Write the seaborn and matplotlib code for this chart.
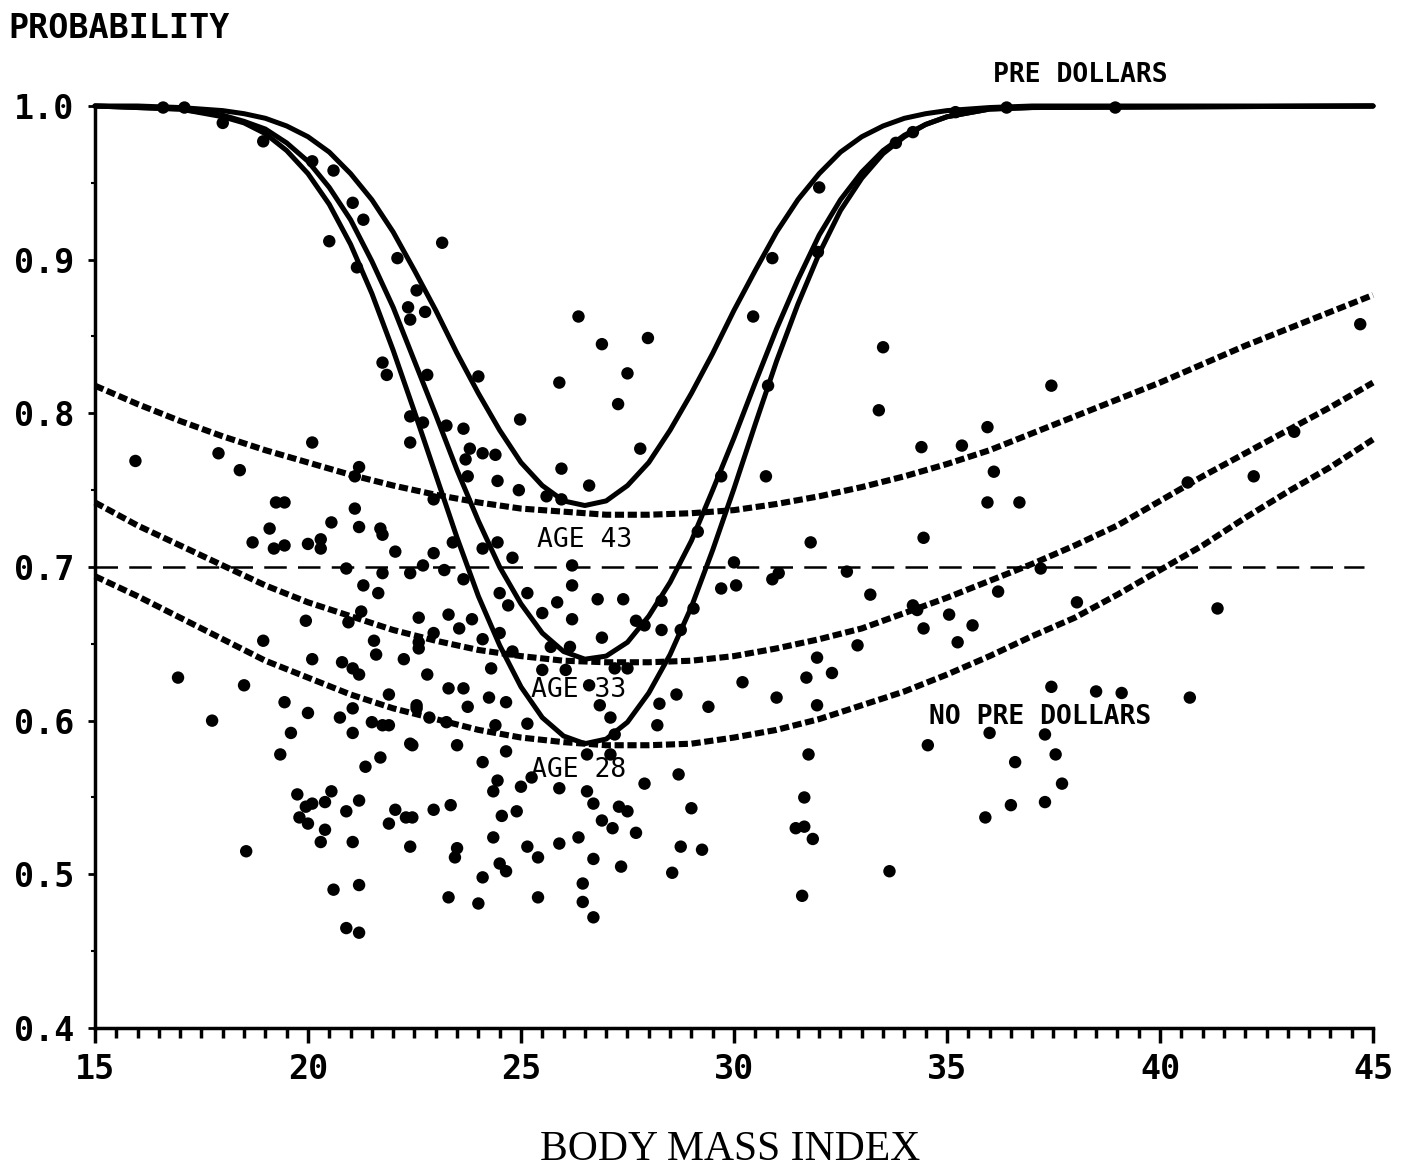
import matplotlib
matplotlib.use("Agg")
import matplotlib.pyplot as plt
import seaborn as sns
import numpy as np

# solid curves (PRE DOLLARS)
solid_bmi = [15, 16, 17, 18, 18.5, 19, 19.5, 20, 20.5, 21, 21.5, 22, 22.5, 23, 23.5,
             24, 24.5, 25, 25.5, 26, 26.5, 27, 27.5, 28, 28.5, 29, 29.5, 30, 30.5,
             31, 31.5, 32, 32.5, 33, 33.5, 34, 34.5, 35, 36, 37, 45]
pre_age43 = [1.000, 1.000, 0.999, 0.997, 0.995, 0.992, 0.987, 0.980, 0.970, 0.956, 0.939,
             0.918, 0.893, 0.867, 0.839, 0.813, 0.789, 0.768, 0.753, 0.743, 0.740, 0.743,
             0.753, 0.768, 0.789, 0.813, 0.839, 0.867, 0.893, 0.918, 0.939, 0.956, 0.970,
             0.980, 0.987, 0.992, 0.995, 0.997, 0.999, 1.000, 1.000]
pre_age33 = [1.000, 0.999, 0.998, 0.994, 0.990, 0.985, 0.976, 0.964, 0.947, 0.926, 0.899,
             0.869, 0.834, 0.799, 0.763, 0.730, 0.700, 0.676, 0.657, 0.645, 0.640, 0.642,
             0.651, 0.668, 0.690, 0.717, 0.750, 0.784, 0.820, 0.855, 0.887, 0.916, 0.939,
             0.957, 0.971, 0.981, 0.988, 0.993, 0.998, 0.999, 1.000]
pre_age28 = [1.000, 0.999, 0.998, 0.993, 0.989, 0.982, 0.971, 0.956, 0.936, 0.910, 0.878,
             0.841, 0.801, 0.760, 0.719, 0.681, 0.649, 0.622, 0.602, 0.590, 0.585, 0.588,
             0.599, 0.618, 0.643, 0.674, 0.711, 0.751, 0.793, 0.834, 0.871, 0.904, 0.932,
             0.953, 0.969, 0.980, 0.988, 0.993, 0.998, 0.999, 1.000]

# dotted curves (NO PRE DOLLARS)
dotted_bmi = list(range(15, 46))
nopre_age43 = [0.818, 0.806, 0.795, 0.785, 0.776, 0.768, 0.760, 0.753, 0.747, 0.742, 0.738,
               0.736, 0.734, 0.734, 0.735, 0.737, 0.741, 0.746, 0.752, 0.759, 0.767, 0.776,
               0.787, 0.798, 0.809, 0.820, 0.832, 0.844, 0.855, 0.866, 0.877]
nopre_age33 = [0.742, 0.727, 0.714, 0.701, 0.688, 0.677, 0.668, 0.659, 0.652, 0.646, 0.642,
               0.639, 0.638, 0.638, 0.639, 0.642, 0.647, 0.653, 0.660, 0.670, 0.680, 0.691,
               0.702, 0.714, 0.727, 0.743, 0.759, 0.774, 0.789, 0.804, 0.820]
nopre_age28 = [0.694, 0.681, 0.667, 0.653, 0.639, 0.628, 0.617, 0.608, 0.601, 0.594, 0.589,
               0.586, 0.584, 0.584, 0.585, 0.589, 0.594, 0.601, 0.610, 0.619, 0.630, 0.642,
               0.655, 0.667, 0.682, 0.698, 0.714, 0.732, 0.749, 0.765, 0.783]

# observed points
bmi_pts = [
    16.6, 17.1, 18.0, 18.95, 20.1, 20.6, 20.5, 21.05, 21.3, 21.15, 22.1, 22.55, 22.35, 22.4,
    21.75, 21.85, 22.4, 23.15, 26.35, 26.9, 27.98, 27.5, 25.9, 27.28, 24.0, 22.75, 22.8, 24.98,
    32.0, 30.9, 30.45, 31.97, 30.8, 33.5, 33.4, 37.45, 33.8, 34.2, 38.95, 35.2, 36.4, 44.7,
    15.95, 17.9, 18.4, 20.1, 22.4, 21.2, 21.1, 19.25, 19.45, 21.1, 20.55, 19.1, 21.2, 21.7,
    21.75, 18.7, 19.2, 19.45, 20.0, 20.3, 20.3, 22.05, 20.9, 21.75, 22.4, 21.3, 21.65, 22.6,
    21.25, 20.95, 19.95, 18.95, 21.55, 21.6, 22.25, 22.6, 20.1, 20.8, 21.05, 21.2, 16.95, 18.5,
    21.9, 19.45, 21.05, 20.0, 20.75, 21.5, 21.75, 21.9, 17.75, 22.55,
    19.6, 21.05, 19.35, 22.4, 21.7, 21.35, 19.75, 20.55, 19.95, 20.1, 20.4, 21.2, 20.9, 19.8,
    20.0, 20.4, 20.3, 21.05, 22.05, 22.3, 22.45, 21.9, 22.4, 18.55, 20.6, 21.2, 20.9, 21.2,
    27.8, 25.95, 26.6, 23.65, 23.8, 24.1, 24.4, 23.7, 24.45, 24.95, 23.75, 25.6, 25.95, 22.7,
    23.25, 29.7, 29.15, 22.95, 22.7, 23.2, 23.65, 24.8, 24.45, 23.4, 24.1, 26.2, 26.2, 29.7,
    30.05, 25.15, 24.5, 26.8, 27.4, 25.85, 24.7, 28.3, 29.05, 25.5, 26.2, 23.3, 23.85, 27.7,
    27.9, 28.3, 28.75, 26.9, 23.55, 22.95, 24.1, 22.6, 24.5, 25.7, 26.15, 24.8, 22.8, 23.3,
    23.65, 24.3, 24.25, 24.65, 25.5, 26.05, 27.2, 27.5, 26.6, 28.65, 29.4, 28.25, 26.85, 27.1,
    28.2, 25.15, 24.4, 23.75, 22.55, 22.85, 23.25, 22.95,
    22.45, 23.5, 24.1, 24.65, 27.2, 26.55, 27.1, 24.45, 24.35, 25.0, 25.25, 25.9, 26.55, 27.9,
    28.7, 26.7, 27.3, 27.5, 29.0, 26.9, 27.15, 27.7, 22.95, 23.35, 24.55, 24.9, 24.35, 23.5,
    23.45, 25.15, 25.4, 25.9, 26.35, 26.7, 27.35, 24.5, 24.65, 24.1, 28.75, 29.25, 28.55, 26.45,
    23.3, 24.0, 25.4, 26.45, 26.7,
    35.95, 34.4, 35.35, 36.1, 35.95, 36.7, 30.75, 31.8, 34.45, 30.0, 31.05, 30.9, 32.65, 33.2,
    37.2, 36.2, 34.2, 34.3, 35.05, 34.45, 35.6, 35.25, 32.9, 31.95, 32.3, 31.7, 30.2, 31.0,
    31.95, 37.45, 31.75, 34.55, 36.0, 37.3, 37.55, 36.6, 31.65, 31.45, 31.65, 31.85, 33.65, 31.6,
    36.5, 35.9, 37.3, 37.7, 43.15, 42.2, 40.65, 38.05, 41.35, 38.5, 39.1, 40.7,
]
prob_pts = [
    0.999, 0.999, 0.989, 0.977, 0.964, 0.958, 0.912, 0.937, 0.926, 0.895, 0.901, 0.880, 0.869, 0.861,
    0.833, 0.825, 0.798, 0.911, 0.863, 0.845, 0.849, 0.826, 0.820, 0.806, 0.824, 0.866, 0.825, 0.796,
    0.947, 0.901, 0.863, 0.905, 0.818, 0.843, 0.802, 0.818, 0.976, 0.983, 0.999, 0.996, 0.999, 0.858,
    0.769, 0.774, 0.763, 0.781, 0.781, 0.765, 0.759, 0.742, 0.742, 0.738, 0.729, 0.725, 0.726, 0.725,
    0.721, 0.716, 0.712, 0.714, 0.715, 0.718, 0.712, 0.710, 0.699, 0.696, 0.696, 0.688, 0.683, 0.667,
    0.671, 0.664, 0.665, 0.652, 0.652, 0.643, 0.640, 0.647, 0.640, 0.638, 0.634, 0.630, 0.628, 0.623,
    0.617, 0.612, 0.608, 0.605, 0.602, 0.599, 0.597, 0.597, 0.600, 0.610,
    0.592, 0.592, 0.578, 0.585, 0.576, 0.570, 0.552, 0.554, 0.544, 0.546, 0.547, 0.548, 0.541, 0.537,
    0.533, 0.529, 0.521, 0.521, 0.542, 0.537, 0.537, 0.533, 0.518, 0.515, 0.490, 0.493, 0.465, 0.462,
    0.777, 0.764, 0.753, 0.790, 0.777, 0.774, 0.773, 0.770, 0.756, 0.750, 0.759, 0.746, 0.744, 0.794,
    0.792, 0.759, 0.723, 0.709, 0.701, 0.698, 0.692, 0.706, 0.716, 0.716, 0.712, 0.701, 0.688, 0.686,
    0.688, 0.683, 0.683, 0.679, 0.679, 0.677, 0.675, 0.678, 0.673, 0.670, 0.666, 0.669, 0.666, 0.665,
    0.662, 0.659, 0.659, 0.654, 0.660, 0.657, 0.653, 0.651, 0.657, 0.648, 0.648, 0.645, 0.630, 0.621,
    0.621, 0.634, 0.615, 0.612, 0.633, 0.633, 0.634, 0.634, 0.623, 0.617, 0.609, 0.611, 0.610, 0.602,
    0.597, 0.598, 0.597, 0.609, 0.608, 0.602, 0.599, 0.744,
    0.584, 0.584, 0.573, 0.580, 0.591, 0.578, 0.578, 0.561, 0.554, 0.557, 0.563, 0.556, 0.554, 0.559,
    0.565, 0.546, 0.544, 0.541, 0.543, 0.535, 0.530, 0.527, 0.542, 0.545, 0.538, 0.541, 0.524, 0.517,
    0.511, 0.518, 0.511, 0.520, 0.524, 0.510, 0.505, 0.507, 0.502, 0.498, 0.518, 0.516, 0.501, 0.494,
    0.485, 0.481, 0.485, 0.482, 0.472,
    0.791, 0.778, 0.779, 0.762, 0.742, 0.742, 0.759, 0.716, 0.719, 0.703, 0.696, 0.692, 0.697, 0.682,
    0.699, 0.684, 0.675, 0.672, 0.669, 0.660, 0.662, 0.651, 0.649, 0.641, 0.631, 0.628, 0.625, 0.615,
    0.610, 0.622, 0.578, 0.584, 0.592, 0.591, 0.578, 0.573, 0.550, 0.530, 0.531, 0.523, 0.502, 0.486,
    0.545, 0.537, 0.547, 0.559, 0.788, 0.759, 0.755, 0.677, 0.673, 0.619, 0.618, 0.615,
]

x_ticks = [15, 20, 25, 30, 35, 40, 45]
y_ticks = [0.4, 0.5, 0.6, 0.7, 0.8, 0.9, 1.0]
y_tick_labels = ["0.4", "0.5", "0.6", "0.7", "0.8", "0.9", "1.0"]

sns.set_style("ticks")
plt.rcParams['font.family'] = ['DejaVu Sans Mono', 'DejaVu Sans']
plt.rcParams['text.color'] = 'black'
plt.rcParams['xtick.color'] = 'black'
plt.rcParams['ytick.color'] = 'black'
plt.rcParams['axes.edgecolor'] = 'black'

fig = plt.figure(figsize=(14.13, 11.70), dpi=100)
ax = fig.add_axes([0.0672, 0.1214, 0.9045, 0.788])

# reference line at 0.7
sns.lineplot(x=[15, 44.8], y=[0.7, 0.7], ax=ax, color="black", lw=1.8,
             linestyle=(0, (9, 4.5)), estimator=None, sort=False)

for vals in [pre_age43, pre_age33, pre_age28]:
    sns.lineplot(x=solid_bmi, y=vals, ax=ax, color="black", lw=3.6,
                 estimator=None, sort=False, clip_on=False)

for vals in [nopre_age43, nopre_age33, nopre_age28]:
    sns.lineplot(x=dotted_bmi, y=vals, ax=ax, color="black", lw=4.4,
                 linestyle=(0, (1.5, 0.6)), estimator=None, sort=False,
                 dash_capstyle="butt", clip_on=False)

sns.scatterplot(x=bmi_pts, y=prob_pts, ax=ax, color="black", s=80,
                edgecolor="none", clip_on=False, zorder=3)

ax.set_xlim(15, 45)
ax.set_ylim(0.4, 1.0)
ax.set_xticks(x_ticks)
ax.set_xticklabels([str(t) for t in x_ticks])
ax.set_xticks(np.arange(15, 45.01, 0.5), minor=True)
ax.set_yticks(y_ticks)
ax.set_yticklabels(y_tick_labels)
ax.set_yticks(np.arange(0.4, 1.001, 0.05), minor=True)

for lab in ax.get_xticklabels() + ax.get_yticklabels():
    lab.set_fontweight("bold")
    lab.set_fontsize(24)

ax.tick_params(axis="x", which="major", length=11, width=2.5, direction="out", pad=7)
ax.tick_params(axis="x", which="minor", length=7, width=2.5, direction="out")
ax.tick_params(axis="y", which="major", length=5, width=2, direction="out", pad=10)
ax.tick_params(axis="y", which="minor", length=3, width=1.5, direction="out")

sns.despine(ax=ax)
for side in ["left", "bottom"]:
    ax.spines[side].set_linewidth(2.5)
    ax.spines[side].set_color("black")

ax.text(38.12, 1.02, "PRE DOLLARS", ha="center", va="center", fontsize=19,
        fontweight="bold", clip_on=False)
ax.text(26.5, 0.7176, "AGE 43", ha="center", va="center", fontsize=19)
ax.text(26.35, 0.620, "AGE 33", ha="center", va="center", fontsize=19)
ax.text(26.35, 0.568, "AGE 28", ha="center", va="center", fontsize=19)
ax.text(37.18, 0.6024, "NO PRE DOLLARS", ha="center", va="center", fontsize=19,
        fontweight="bold")

fig.text(8 / 1413, 1 - 28 / 1170, "PROBABILITY", ha="left", va="center",
         fontsize=24, fontweight="bold")
fig.text(730 / 1413, 1 - 1150 / 1170, "BODY MASS INDEX", ha="center", va="center",
         fontsize=30, family="Liberation Serif")

fig.savefig("out.png", dpi=100)
